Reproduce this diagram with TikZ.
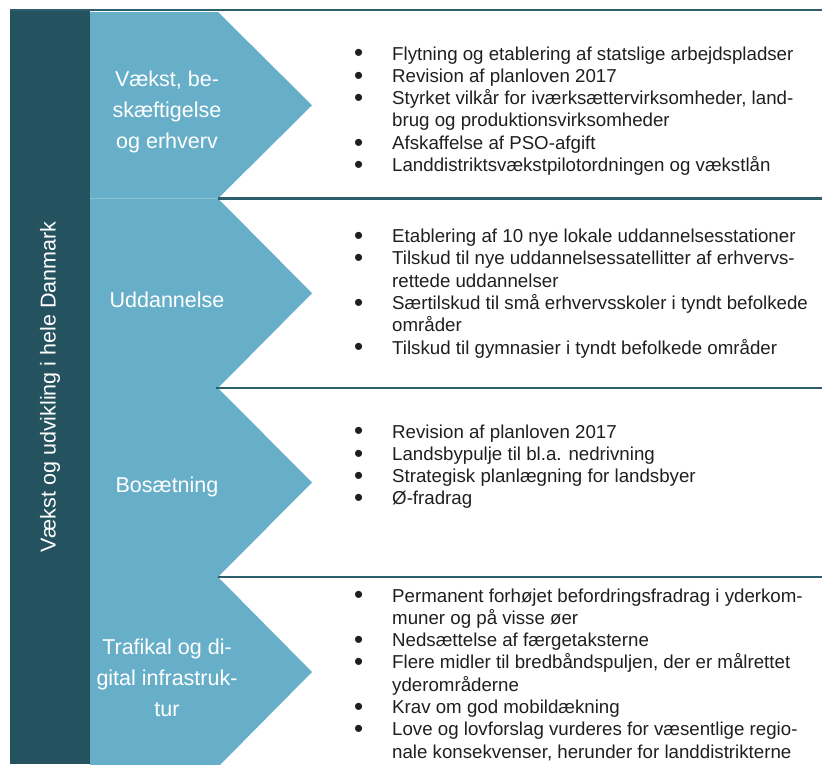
\documentclass[tikz,border=0pt]{standalone}
\usepackage{fontspec}
\setmainfont{Liberation Sans}
\definecolor{darkteal}{HTML}{24525E}
\definecolor{chevblue}{HTML}{67AFC8}
\definecolor{ruleteal}{HTML}{2E5D6B}
\newcommand{\blt}{\raisebox{-1.8pt}{\fontsize{26}{22}\selectfont\textbullet}}

\begin{document}
\begin{tikzpicture}[x=1pt,y=-1pt,
    chev/.style={fill=chevblue},
    sepline/.style={draw=ruleteal, line width=2.5pt},
    lbl/.style={text=white, align=center, inner sep=0pt, font=\fontsize{21.5}{31}\selectfont},
    itemlist/.style={anchor=base west, inner sep=0pt, text=black!88, font=\fontsize{18.7}{22.3}\selectfont}]
    \useasboundingbox (0,0) rectangle (822,764);
    \clip (0,0) rectangle (822,764);
    % dark side bar and the four chevrons
    \fill[darkteal] (10,9) rectangle (90,764);
    \foreach \t/\b in {12/198.5, 198.5/388, 388/577, 577/767}
        \fill[chev] (90,\t) -- (218,\t) -- (312,{(\t+\b)/2}) -- (218,\b) -- (90,\b) -- cycle;
    % rules between the sections
    \draw[sepline] (10,10) -- (822,10);
    \draw[sepline] (218,198.5) -- (822,198.5);
    \draw[sepline] (216,388) -- (822,388);
    \draw[sepline] (218,577) -- (822,577);
    % labels
    \node[lbl, rotate=90] (title) at (50,387) {Vækst og udvikling i hele Danmark};
    \node[lbl] (vaekst) at (167,112) {Vækst, be-\\skæftigelse\\og erhverv};
    \node[lbl] (uddannelse) at (167,300) {Uddannelse};
    \node[lbl] (bosaetning) at (167,487) {Bosætning};
    \node[lbl] (trafik) at (167,678) {Trafikal og di-\\gital infrastruk-\\tur};
    % bullet lists
    \node[itemlist] (vaekstlist) at (354,60) {\begin{tabular}[t]{@{}p{38pt}@{}l@{}}
        \blt & Flytning og etablering af statslige arbejdspladser\\
        \blt & Revision af planloven 2017\\
        \blt & Styrket vilkår for iværksættervirksomheder, land-\\
             & brug og produktionsvirksomheder\\
        \blt & Afskaffelse af PSO-afgift\\
        \blt & Landdistriktsvækstpilotordningen og vækstlån
    \end{tabular}};
    \node[itemlist] (uddlist) at (354,242.5) {\begin{tabular}[t]{@{}p{38pt}@{}l@{}}
        \blt & Etablering af 10 nye lokale uddannelsesstationer\\
        \blt & Tilskud til nye uddannelsessatellitter af erhvervs-\\
             & rettede uddannelser\\
        \blt & Særtilskud til små erhvervsskoler i tyndt befolkede\\
             & områder\\
        \blt & Tilskud til gymnasier i tyndt befolkede områder
    \end{tabular}};
    \node[itemlist] (boslist) at (354,438) {\begin{tabular}[t]{@{}p{38pt}@{}l@{}}
        \blt & Revision af planloven 2017\\
        \blt & Landsbypulje til bl.a. nedrivning\\
        \blt & Strategisk planlægning for landsbyer\\
        \blt & Ø-fradrag
    \end{tabular}};
    \node[itemlist] (trafiklist) at (354,602) {\begin{tabular}[t]{@{}p{38pt}@{}l@{}}
        \blt & Permanent forhøjet befordringsfradrag i yderkom-\\
             & muner og på visse øer\\
        \blt & Nedsættelse af færgetaksterne\\
        \blt & Flere midler til bredbåndspuljen, der er målrettet\\
             & yderområderne\\
        \blt & Krav om god mobildækning\\
        \blt & Love og lovforslag vurderes for væsentlige regio-\\
             & nale konsekvenser, herunder for landdistrikterne
    \end{tabular}};
\end{tikzpicture}
\end{document}
